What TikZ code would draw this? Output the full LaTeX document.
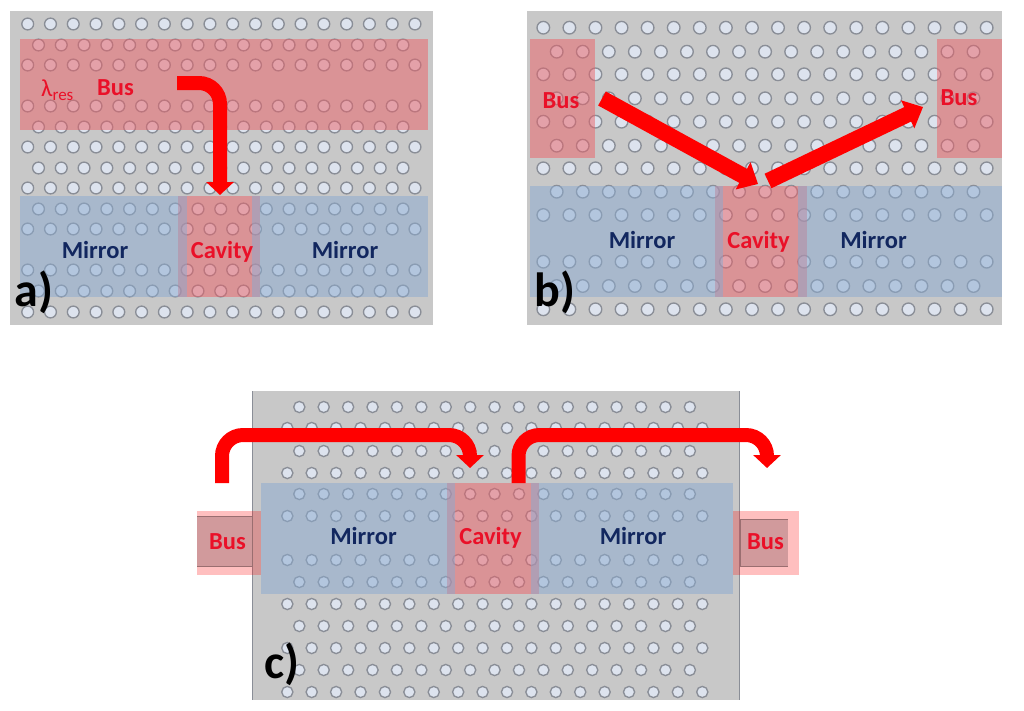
\documentclass[tikz,border=0pt]{standalone}
\usepackage{fontspec}
\setmainfont{Carlito}
\usetikzlibrary{arrows.meta}
\definecolor{plate}{HTML}{C8C8C8}
\definecolor{holefill}{HTML}{DDE3EE}
\definecolor{holeline}{HTML}{8A8E97}
\definecolor{redlay}{RGB}{236,96,102}
\definecolor{bluelay}{RGB}{138,170,208}
\definecolor{txtred}{HTML}{EA1028}
\definecolor{txtblue}{HTML}{12275F}
\definecolor{businner}{HTML}{D19A9C}
\definecolor{busline}{HTML}{9A6E70}
\tikzset{
  plateb/.style={fill=plate,draw=none},
  redbox/.style={fill=redlay,fill opacity=.5,draw=none},
  bluebox/.style={fill=bluelay,fill opacity=.5,draw=none},
  halo/.style={fill=red,fill opacity=.25,draw=none},
  holestyle/.style={draw=holeline,fill=holefill,line width=1.35pt},
  flow/.style={draw=red,line width=14pt,rounded corners=21pt,-{Triangle[length=13pt,width=27pt]}},
  beam/.style={draw=red,line width=16pt,-{Triangle[length=17pt,width=30pt]}},
  redlabel/.style={text=txtred,font=\fontsize{24.5}{26}\selectfont\bfseries,inner sep=0pt,text depth=0pt},
  bluelabel/.style={text=txtblue,font=\fontsize{24.5}{26}\selectfont\bfseries,inner sep=0pt,text depth=0pt},
  panellabel/.style={text=black,font=\fontsize{48}{50}\selectfont\bfseries,inner sep=0pt},
}
\newcommand{\holerows}[5]{% x0, dx, last index, radius, list of y
  \foreach \yy in {#5}{\foreach \ii in {0,...,#3}{\path[holestyle] ({#1+\ii*#2},\yy) circle (#4pt);}}}
\begin{document}
\begin{tikzpicture}[x=1pt,y=-1pt]
\useasboundingbox (0,0) rectangle (1024,710);
% ---------- a
\fill[plateb] (10,11) rectangle (433,325);
\holerows{27.7}{22.78}{17}{5.9}{24,65,106,147,188,229,270,312}
\holerows{38.5}{22.78}{16}{5.9}{45,127,168,209,291}
\path[redbox] (20,39) rectangle (428,130);
\path[redbox] (178,196) rectangle (260,297);
\path[bluebox] (20,196) rectangle (187,297);
\path[bluebox] (252,196) rectangle (428,297);
\node[redlabel,anchor=west] (lamA) at (41,88) {{\mdseries\fontsize{24.5}{26}\selectfont λ}\raisebox{-.35ex}{\fontsize{17}{18}\selectfont\mdseries res}};
\node[redlabel] (busA) at (115.5,88) {Bus};
\node[bluelabel] (mirA1) at (95,250) {Mirror};
\node[redlabel] (cavA) at (222,250) {Cavity};
\node[bluelabel] (mirA2) at (345,250) {Mirror};
\node[panellabel] (labA) at (34,292) {a)};
\draw[flow] (177,83) -- (220,83) -- (220,195);
% ---------- b
\fill[plateb] (527,11) rectangle (1002,325);
\holerows{543.3}{26.08}{17}{6.3}{27.7,74.3,121.7,168.3,215,261.7,309.3}
\holerows{556.7}{26.05}{16}{6.3}{51.7,98.3,145.7,191.7,286}
\path[redbox] (530,39) rectangle (595,158);
\path[redbox] (937,39) rectangle (1002,158);
\path[redbox] (715,186) rectangle (807,297);
\path[bluebox] (530,186) rectangle (723,297);
\path[bluebox] (798,186) rectangle (1002,297);
\node[redlabel] (busB1) at (561,101) {Bus};
\node[redlabel] (busB2) at (959,98) {Bus};
\node[bluelabel] (mirB1) at (642,240) {Mirror};
\node[redlabel] (cavB) at (758.5,240) {Cavity};
\node[bluelabel] (mirB2) at (873.5,240) {Mirror};
\node[panellabel] (labB) at (555,292) {b)};
\draw[beam] (602,98.5) -- (758,184);
\draw[beam] (768,181) -- (923,107);
% ---------- c
\fill[plateb] (252,391) rectangle (739,700);
\draw[holeline,line width=.9pt] (252,391) -- (252,700) (739,391) -- (739,700);
\holerows{287.3}{24.41}{17}{5.6}{428,473,516,560,604,648,692}
\holerows{299.3}{24.41}{16}{5.6}{407,451,494,582,626,670}
\path[halo] (197,511) rectangle (261,575);
\path[halo] (733,511) rectangle (799,575);
\fill[businner] (197,516) rectangle (252,566);
\draw[busline,line width=.9pt] (197,516) -- (252,516) -- (252,566) -- (197,566);
\fill[businner] (740,519) rectangle (788,566);
\draw[busline,line width=.9pt] (788,519) -- (740,519) -- (740,566) -- (788,566);
\path[redbox] (447,483) rectangle (539,594);
\path[bluebox] (261,483) rectangle (455,594);
\path[bluebox] (531,483) rectangle (733,594);
\node[redlabel] (busC1) at (227.5,542) {Bus};
\node[redlabel] (busC2) at (765.5,542) {Bus};
\node[bluelabel] (mirC1) at (363.5,536) {Mirror};
\node[redlabel] (cavC) at (490.5,536) {Cavity};
\node[bluelabel] (mirC2) at (633,536) {Mirror};
\node[panellabel] (labC) at (282,664) {c)};
\draw[flow] (222,483) -- (222,435) -- (470,435) -- (470,468);
\draw[flow] (518.5,483) -- (518.5,435) -- (767,435) -- (767,468);
\end{tikzpicture}
\end{document}
